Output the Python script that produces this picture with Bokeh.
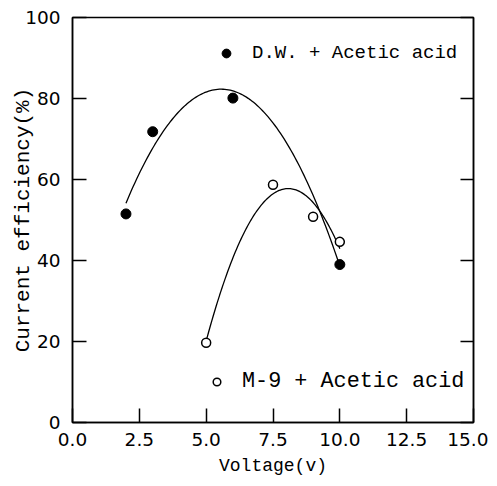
import numpy as np
from bokeh.plotting import figure
from bokeh.models import Range1d, FixedTicker, LinearAxis, Legend, LegendItem
from bokeh.embed import file_html
from bokeh.resources import INLINE

# ---- data ----
dw_voltage = [2, 3, 6, 10]
dw_efficiency = [51.5, 71.8, 80.1, 39.0]
m9_voltage = [5, 7.5, 9, 10]
m9_efficiency = [19.7, 58.7, 50.8, 44.6]

x_ticks = [0, 2.5, 5, 7.5, 10, 12.5, 15]
x_tick_labels = ["0.0", "2.5", "5.0", "7.5", "10.0", "12.5", "15.0"]
y_ticks = [0, 20, 40, 60, 80, 100]
y_tick_labels = ["0", "20", "40", "60", "80", "100"]

dw_label = "D.W. + Acetic acid"
m9_label = "M-9 + Acetic acid"
x_title = "Voltage(v)"
y_title = "Current efficiency(%)"

LABEL_FONT = "Liberation Mono"
TICK_FONT = "DejaVu Sans"

p = figure(width=488, height=478, x_range=Range1d(0, 15), y_range=Range1d(0, 100),
           output_backend="svg", toolbar_location=None,
           min_border_left=72, min_border_right=15, min_border_top=17, min_border_bottom=56,
           x_axis_label=x_title, y_axis_label=y_title)
p.grid.visible = False
p.outline_line_color = "black"
p.outline_line_width = 1.5
p.background_fill_color = "white"
p.border_fill_color = "white"

p.xaxis.ticker = FixedTicker(ticks=x_ticks)
p.yaxis.ticker = FixedTicker(ticks=y_ticks)
p.xaxis.major_label_overrides = {t: s for t, s in zip(x_ticks, x_tick_labels)}
p.yaxis.major_label_overrides = {t: s for t, s in zip(y_ticks, y_tick_labels)}

for ax in [p.xaxis[0], p.yaxis[0]]:
    ax.major_tick_in = 14
    ax.major_tick_out = 0
    ax.minor_tick_in = 0
    ax.minor_tick_out = 0
    ax.axis_line_width = 1.5
    ax.major_tick_line_width = 1.5
    ax.major_label_text_font = TICK_FONT
    ax.major_label_text_font_size = "18.5px"
    ax.major_label_text_color = "black"
    ax.axis_label_text_font = LABEL_FONT
    ax.axis_label_text_font_style = "normal"
    ax.axis_label_text_color = "black"

p.xaxis.major_label_standoff = 10
p.xaxis.axis_label_text_font_size = "18px"
p.xaxis.axis_label_standoff = 7
p.yaxis.major_label_standoff = 12
p.yaxis.axis_label_text_font_size = "21px"
p.yaxis.axis_label_standoff = -13

# right-hand frame ticks, without labels
r_ax = LinearAxis(ticker=FixedTicker(ticks=y_ticks),
                  major_label_text_color=None, major_label_text_font_size="1px",
                  major_tick_in=13, major_tick_out=0, minor_tick_in=0, minor_tick_out=0,
                  major_label_standoff=0,
                  axis_line_width=1.5, major_tick_line_width=1.5)
p.add_layout(r_ax, "right")

# fitted curves (quadratic least squares through each series)
for xs, ys in [(dw_voltage, dw_efficiency), (m9_voltage, m9_efficiency)]:
    coef = np.polyfit(xs, ys, 2)
    xf = np.linspace(min(xs), max(xs), 120)
    p.line(xf, np.polyval(coef, xf), line_color="black", line_width=1.3)

r_dw = p.scatter(dw_voltage, dw_efficiency, marker="circle", size=10,
                 fill_color="black", line_color="black")
r_m9 = p.scatter(m9_voltage, m9_efficiency, marker="circle", size=9,
                 fill_color="white", line_color="black", line_width=1.5)

leg1 = Legend(items=[LegendItem(label=dw_label, renderers=[r_dw])], location=(143, 358),
              padding=0, spacing=0, margin=0, glyph_width=22, glyph_height=22,
              label_standoff=15, border_line_alpha=0, background_fill_alpha=0,
              label_text_font=LABEL_FONT, label_text_font_size="19px", label_text_color="black")
leg2 = Legend(items=[LegendItem(label=m9_label, renderers=[r_m9])], location=(135, 28),
              padding=0, spacing=0, margin=0, glyph_width=19, glyph_height=19,
              label_standoff=16, border_line_alpha=0, background_fill_alpha=0,
              label_text_font=LABEL_FONT, label_text_font_size="21.8px", label_text_color="black")
p.add_layout(leg1)
p.add_layout(leg2)

open("out.html", "w").write(file_html(p, INLINE))
